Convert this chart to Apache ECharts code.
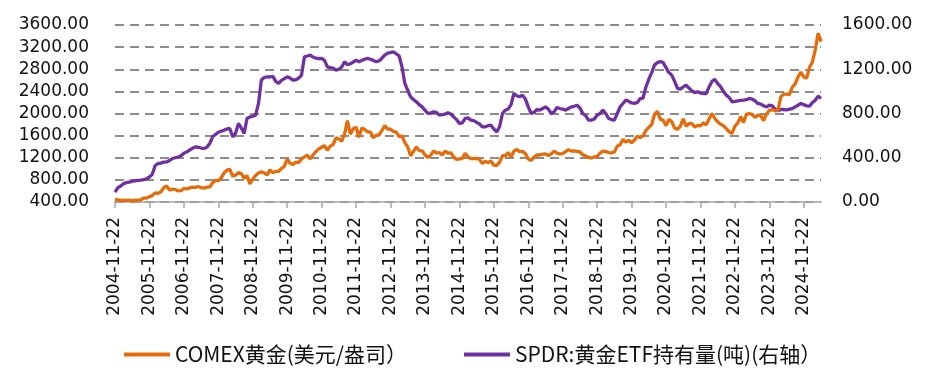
<!DOCTYPE html>
<html><head><meta charset="utf-8">
<script src="https://cdn.jsdelivr.net/npm/echarts@6/dist/echarts.min.js"></script>
<style>html,body{margin:0;padding:0;background:#fff}#c{width:936px;height:390px}</style>
</head><body><div id="c"></div>
<script>
// Monthly sampling, first point 2004-11-22, last 2025-05-22
const startYear = 2004, startMonth = 11, dayOfMonth = 22, nPoints = 247;
const seriesNames = ['COMEX黄金(美元/盎司）', 'SPDR:黄金ETF持有量(吨)(右轴）'];

const goldPrice = [
  445, 440,
  425, 432, 430, 435, 420, 434, 428, 440, 470, 472, 495, 515,
  565, 555, 585, 660, 690, 615, 635, 625, 600, 605, 645, 635,
  655, 670, 665, 680, 660, 650, 668, 672, 745, 792, 785, 835,
  925, 975, 990, 868, 885, 930, 915, 830, 880, 725, 815, 880,
  925, 945, 925, 890, 980, 930, 955, 955, 1005, 1045, 1180, 1100,
  1080, 1120, 1115, 1180, 1215, 1245, 1180, 1250, 1310, 1360, 1390, 1420,
  1335, 1410, 1440, 1560, 1540, 1500, 1630, 1870, 1625, 1725, 1750, 1570,
  1740, 1710, 1670, 1665, 1560, 1605, 1615, 1690, 1780, 1720, 1715, 1675,
  1665, 1580, 1595, 1475, 1395, 1235, 1315, 1395, 1330, 1325, 1255, 1205,
  1245, 1325, 1285, 1295, 1250, 1320, 1285, 1290, 1215, 1170, 1180, 1185,
  1280, 1215, 1185, 1185, 1190, 1170, 1095, 1135, 1115, 1140, 1065, 1060,
  1120, 1240, 1235, 1295, 1215, 1320, 1350, 1310, 1315, 1275, 1175, 1150,
  1210, 1250, 1250, 1265, 1270, 1240, 1270, 1320, 1285, 1270, 1275, 1310,
  1345, 1320, 1325, 1315, 1305, 1255, 1230, 1205, 1195, 1215, 1225, 1285,
  1320, 1315, 1295, 1285, 1305, 1410, 1435, 1530, 1485, 1515, 1470, 1520,
  1590, 1565, 1595, 1695, 1750, 1800, 1985, 2040, 1895, 1880, 1780, 1895,
  1850, 1735, 1715, 1770, 1905, 1770, 1815, 1820, 1755, 1785, 1775, 1830,
  1795, 1900, 2000, 1910, 1850, 1805, 1780, 1725, 1670, 1640, 1770, 1825,
  1945, 1835, 1985, 2000, 1980, 1930, 1970, 1965, 1870, 1995, 2055, 2070,
  2050, 2055, 2300, 2350, 2350, 2340, 2475, 2535, 2660, 2750, 2660, 2640,
  2835, 2930, 3150, 3450, 3300
];

const spdrHolding = [
  90, 130,
  145, 166, 175, 180, 188, 192, 195, 198, 203, 210, 226, 250,
  330, 348, 352, 360, 362, 375, 393, 400, 407, 418, 440, 453,
  470, 485, 498, 495, 488, 484, 495, 529, 589, 610, 630, 640,
  649, 660, 665, 589, 620, 710, 670, 620, 755, 770, 775, 785,
  891, 1102, 1125, 1132, 1130, 1135, 1090, 1072, 1100, 1115, 1132, 1120,
  1102, 1105, 1120, 1147, 1313, 1320, 1328, 1310, 1300, 1295, 1298, 1280,
  1222, 1215, 1210, 1192, 1200, 1220, 1268, 1240, 1250, 1265, 1283, 1268,
  1280, 1290, 1298, 1290, 1280, 1268, 1275, 1300, 1328, 1345, 1350, 1358,
  1340, 1320, 1222, 1072, 1010, 951, 925, 906, 880, 860, 830, 800,
  805, 815, 810, 785, 790, 795, 806, 795, 770, 745, 710, 715,
  755, 760, 740, 735, 720, 705, 679, 680, 690, 694, 660, 634,
  680, 800, 830, 840, 880, 981, 960, 951, 966, 930, 860, 800,
  810, 836, 830, 845, 860, 840, 800, 815, 854, 845, 840, 830,
  845, 860, 865, 875, 850, 800, 780, 740, 740, 750, 785, 800,
  830, 800, 755, 745, 740, 800, 860, 890, 921, 910, 895, 891,
  900, 935, 940, 1040, 1110, 1170, 1240, 1260, 1270, 1260, 1215, 1170,
  1147, 1090, 1027, 1020, 1040, 1057, 1030, 1005, 990, 996, 985, 981,
  981, 1040, 1090, 1108, 1070, 1042, 1000, 966, 945, 906, 910, 915,
  918, 921, 925, 936, 930, 915, 891, 885, 870, 860, 875, 870,
  840, 825, 836, 836, 832, 840, 845, 860, 875, 891, 880, 870,
  866, 900, 920, 957, 936
];

const categories = [];
for (let i = 0; i < nPoints; i++) {
  const t = (startMonth - 1) + i;
  const y = startYear + Math.floor(t / 12);
  const m = (t % 12) + 1;
  categories.push(y + '-' + String(m).padStart(2, '0') + '-' + dayOfMonth);
}

const chart = echarts.init(document.getElementById('c'), null, {renderer: 'canvas'});
const axisFont = {fontFamily: 'DejaVu Sans', fontSize: 17, color: '#111'};
const legendText = {fontFamily: 'Noto Sans CJK SC', fontSize: 21, color: '#111'};
chart.setOption({
  animation: false,
  backgroundColor: '#fff',
  grid: {left: 115, right: 115, top: 25, bottom: 188, containLabel: false},
  legend: [
    {left: 119, top: 339, data: [seriesNames[0]], icon: 'rect', itemWidth: 46, itemHeight: 4, textStyle: legendText},
    {left: 459, top: 339, data: [seriesNames[1]], icon: 'rect', itemWidth: 46, itemHeight: 4, textStyle: legendText}
  ],
  xAxis: {
    type: 'category',
    data: categories,
    boundaryGap: false,
    axisLine: {lineStyle: {color: '#a6a6a6', width: 1.5}},
    axisTick: {show: true, interval: 11, length: 6, lineStyle: {color: '#a6a6a6', width: 1.5}},
    axisLabel: Object.assign({interval: 11, rotate: 90, margin: 15}, axisFont),
    splitLine: {show: false}
  },
  yAxis: [
    {
      type: 'value', min: 400, max: 3600, interval: 400, position: 'left',
      axisLine: {show: false}, axisTick: {show: false},
      axisLabel: Object.assign({margin: 26, formatter: v => v.toFixed(2)}, axisFont),
      splitLine: {show: true, lineStyle: {color: '#8c8c8c', width: 2, type: [9, 6]}}
    },
    {
      type: 'value', min: 0, max: 1600, interval: 200, position: 'right',
      axisLine: {show: false}, axisTick: {show: false},
      axisLabel: Object.assign({margin: 21, formatter: v => (v % 400 === 0 ? v.toFixed(2) : '')}, axisFont),
      splitLine: {show: false}
    }
  ],
  series: [
    {name: seriesNames[0], type: 'line', yAxisIndex: 0, data: goldPrice, symbol: 'none', z: 3,
     lineStyle: {color: '#E46C0A', width: 3.3}, itemStyle: {color: '#E46C0A'}},
    {name: seriesNames[1], type: 'line', yAxisIndex: 1, data: spdrHolding, symbol: 'none', z: 2,
     lineStyle: {color: '#7030A0', width: 3.3}, itemStyle: {color: '#7030A0'}}
  ]
});
</script>
</body></html>
